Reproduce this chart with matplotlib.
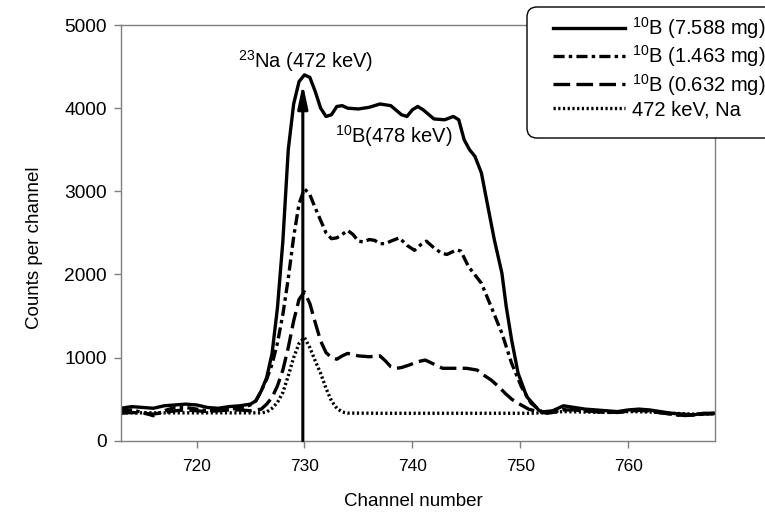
import matplotlib
matplotlib.use("Agg")
import matplotlib.pyplot as plt
from matplotlib.patches import FancyBboxPatch
from matplotlib.transforms import IdentityTransform

plt.rcParams['font.family'] = ['Liberation Sans', 'DejaVu Sans']
plt.rcParams['mathtext.default'] = 'regular'
plt.rcParams['lines.scale_dashes'] = False

# ---- data ----
ch_758 = [713, 714, 715, 716, 717, 718, 719, 720, 721, 722, 723, 724, 725, 725.5, 726, 726.5,
          727, 727.5, 728, 728.5, 729, 729.5, 730, 730.5, 731, 731.5, 732, 732.5, 733, 733.5,
          734, 735, 736, 737, 738, 739, 739.5, 740, 740.5, 741, 742, 743, 743.8, 744.3, 744.8,
          745.3, 745.8, 746.4, 747, 747.6, 748.3, 748.7, 749.2, 749.8, 750.6, 751.7, 752, 753,
          754, 755, 756, 757, 758, 759, 760, 761, 762, 763, 764, 765, 766, 767, 768]
cnt_758 = [390, 410, 400, 390, 420, 430, 440, 430, 400, 390, 410, 420, 440, 480, 600, 760,
           1050, 1600, 2400, 3500, 4050, 4320, 4400, 4370, 4200, 4000, 3900, 3920, 4020, 4030,
           4000, 3990, 4010, 4050, 4030, 3920, 3900, 3980, 4020, 3980, 3870, 3860, 3900, 3860, 3620,
           3500, 3420, 3220, 2816, 2415, 2014, 1612, 1212, 811, 530, 369, 345, 360,
           420, 400, 380, 370, 360, 350, 370, 380, 370, 350, 330, 320, 310, 330, 330]

ch_1463 = [713, 714, 715, 716, 717, 718, 719, 720, 721, 722, 723, 724, 725, 725.5, 726, 726.5,
           727, 727.5, 728, 728.5, 729, 729.5, 730, 730.5, 731, 731.5, 732, 732.5, 733, 733.5,
           734, 734.5, 735, 735.5, 736, 736.5, 737, 737.5, 738, 738.8, 739.5, 740.2, 740.8, 741.3,
           742, 742.7, 743.2, 744.1, 744.5, 745.2, 746.4, 747.3, 748.3, 749.2, 750.1, 751, 752,
           753, 754, 755, 756, 757, 758, 759, 760, 761, 762, 763, 764, 765, 766, 767, 768]
cnt_1463 = [360, 370, 340, 300, 360, 400, 400, 380, 360, 370, 380, 390, 430, 480, 600, 740,
            920, 1175, 1520, 1950, 2450, 2850, 3030, 2960, 2800, 2650, 2500, 2430, 2440, 2480,
            2530, 2480, 2400, 2390, 2420, 2410, 2370, 2370, 2400, 2440, 2350, 2290, 2360, 2400,
            2320, 2255, 2240, 2295, 2280, 2094, 1894, 1612, 1292, 931, 650, 450, 349,
            340, 380, 380, 360, 350, 340, 340, 360, 370, 360, 340, 320, 300, 310, 320, 330]

ch_632 = [713, 714, 715, 716, 717, 718, 719, 720, 721, 722, 723, 724, 725, 726, 726.5, 727,
          727.5, 728, 728.5, 729, 729.5, 730, 730.5, 731, 731.5, 732, 732.5, 733, 733.5, 734,
          735, 736, 737, 737.5, 738, 738.5, 739, 739.7, 740.5, 741.2, 742, 742.8, 744, 745, 746,
          746.6, 747.3, 748, 748.6, 749.2, 749.8, 750.8, 751.7, 752.5, 753, 754, 755, 756, 757,
          758, 759, 760, 761, 762, 763, 764, 765, 766, 767, 768]
cnt_632 = [330, 340, 330, 320, 340, 360, 370, 360, 350, 360, 370, 370, 360, 380, 440, 520,
           660, 850, 1120, 1440, 1700, 1790, 1650, 1420, 1200, 1060, 1000, 980, 1020, 1050,
           1020, 1010, 1020, 960, 890, 870, 880, 910, 950, 970, 920, 871, 871, 871, 850,
           790, 730, 650, 570, 500, 450, 378, 349, 330, 340, 370, 370, 360, 350,
           345, 340, 355, 365, 355, 335, 320, 305, 310, 320, 325]

ch_na = [713, 715, 717, 719, 721, 723, 725, 726, 726.5, 727, 727.5, 728, 728.5, 729, 729.5,
         730, 730.5, 731, 731.5, 732, 732.5, 733, 733.5, 734, 737, 740, 743, 746, 749, 751,
         752, 754, 756, 758, 760, 762, 764, 766, 768]
cnt_na = [335, 335, 335, 335, 335, 335, 335, 335, 345, 390, 460, 580, 780, 1000, 1170,
          1240, 1120, 960, 810, 630, 480, 390, 345, 332, 330, 330, 330, 330, 330, 330,
          335, 350, 345, 340, 350, 345, 330, 320, 325]

labels = [r'$^{10}$B (7.588 mg)', r'$^{10}$B (1.463 mg)', r'$^{10}$B (0.632 mg)', '472 keV, Na']
x_ticks = [720, 730, 740, 750, 760]
y_ticks = [0, 1000, 2000, 3000, 4000, 5000]

# ---- figure ----
W, H = 765, 519
fig = plt.figure(figsize=(W / 100, H / 100), dpi=100)
ax = fig.add_axes([121 / W, 1 - 440.7 / H, (714.5 - 121) / W, (440.7 - 25) / H])

styles = [
    dict(linestyle='-'),
    dict(linestyle=(0, (8, 3, 2.5, 3))),
    dict(linestyle=(0, (12, 4.5))),
    dict(linestyle=(0, (1.6, 1.8))),
]
series = [(ch_758, cnt_758), (ch_1463, cnt_1463), (ch_632, cnt_632), (ch_na, cnt_na)]
handles = []
for (xs, ys), st, lab in zip(series, styles, labels):
    ln, = ax.plot(xs, ys, color='black', lw=2.4, dash_capstyle='butt',
                  solid_joinstyle='round', label=lab, **st)
    handles.append(ln)

ax.set_xlim(713, 768)
ax.set_ylim(0, 5000)
ax.set_xticks(x_ticks)
ax.set_yticks(y_ticks)
for sp in ax.spines.values():
    sp.set_color('#7f7f7f')
    sp.set_linewidth(1.0)
ax.tick_params(axis='both', direction='out', length=5, width=1, color='#7f7f7f')
ax.tick_params(axis='x', labelsize=12.5, pad=8)
ax.tick_params(axis='y', labelsize=13.8, pad=5)

ax.set_xlabel('Channel number', fontsize=13.5)
ax.set_ylabel('Counts per channel', fontsize=13.5)
ax.xaxis.set_label_coords(0.492, -0.125)
ax.yaxis.set_label_coords(-0.131, 0.4636)

# arrow marking the 23Na line
ax.annotate('', xy=(729.85, 4290), xytext=(729.85, 0),
            arrowprops=dict(arrowstyle='-|>,head_width=0.15,head_length=0.7',
                            color='black', lw=2.2, mutation_scale=20,
                            shrinkA=0, shrinkB=0), zorder=5)
ax.text(730.1, 4485, r'$^{23}$Na (472 keV)', fontsize=14.5, ha='center', va='baseline')
ax.text(738.3, 3579, r'$^{10}$B(478 keV)', fontsize=14.5, ha='center', va='baseline')

# legend frame (rounded box running off the right edge)
frame = FancyBboxPatch((527, H - 138), 250, 131,
                       boxstyle='round,pad=0,rounding_size=10',
                       transform=IdentityTransform(), facecolor='white',
                       edgecolor='black', lw=1.0, zorder=4.9)
fig.add_artist(frame)

leg = fig.legend(handles, labels, loc='upper left', bbox_to_anchor=(553 / W, 1 - 15 / H),
                 bbox_transform=fig.transFigure, fontsize=14.5, frameon=False,
                 handlelength=3.575, handletextpad=0.35, labelspacing=0.125,
                 borderpad=0, borderaxespad=0)
leg.set_zorder(5)

fig.savefig('out.png', dpi=100)
